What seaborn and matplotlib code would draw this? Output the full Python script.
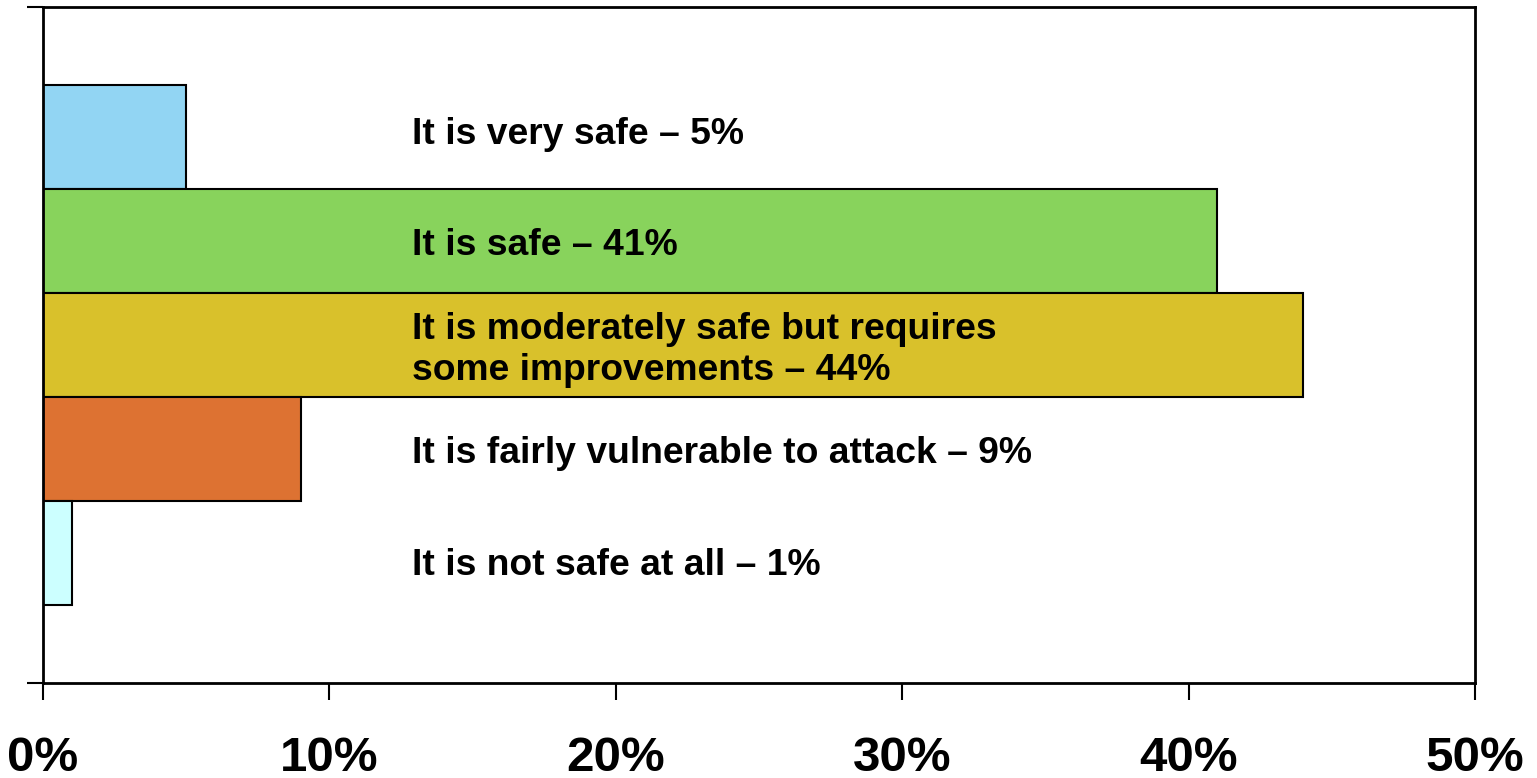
import pandas as pd
import matplotlib.pyplot as plt
import seaborn as sns

# Datos
categorias = ["It is very safe", "It is safe",
              "It is moderately safe but requires\nsome improvements",
              "It is fairly vulnerable to attack", "It is not safe at all"]
porcentajes = [5, 41, 44, 9, 1]
colores = ["#92D5F3", "#88D35C", "#D9C12B", "#DD7232", "#CCFFFF"]
ticks_x = [0, 10, 20, 30, 40, 50]

df = pd.DataFrame({"categoria": categorias, "valor": porcentajes})

sns.set_style("white")
plt.rcParams["font.family"] = ["Liberation Sans", "DejaVu Sans"]

fig = plt.figure(figsize=(15.37, 7.78), dpi=100)
ax = fig.add_axes([43 / 1537, 1 - 683 / 778, (1475 - 43) / 1537, (683 - 7) / 778])

sns.barplot(data=df, x="valor", y="categoria", hue="categoria", palette=colores,
            orient="h", width=1.0, edgecolor="black", linewidth=1.5,
            saturation=1, legend=False, ax=ax)

# Etiquetas dentro del grafico
desplaz = [-0.02, 0.04, 0.05, 0.04, 0.12]
for i, (cat, val) in enumerate(zip(categorias, porcentajes)):
    ax.text(12.9, i + desplaz[i], f"{cat} \u2013 {val}%", ha="left", va="center",
            fontsize=26.8, fontweight="bold", linespacing=1.22, color="black")

# Ejes
ax.set_xlim(0, 50)
ax.set_ylim(5.25, -1.25)
ax.set_xticks(ticks_x)
ax.set_xticklabels([f"{t}%" for t in ticks_x], fontsize=35.5, fontweight="bold")
ax.set_yticks([-1.25, 5.25])
ax.set_yticklabels([])
ax.tick_params(axis="x", direction="out", length=12, width=1.5, pad=26,
               bottom=True, color="black", labelcolor="black")
ax.tick_params(axis="y", direction="out", length=11.5, width=1.5, left=True,
               color="black")
ax.set_xlabel("")
ax.set_ylabel("")
for s in ax.spines.values():
    s.set_color("black")
    s.set_linewidth(2)

plt.savefig("out.png", dpi=100)
